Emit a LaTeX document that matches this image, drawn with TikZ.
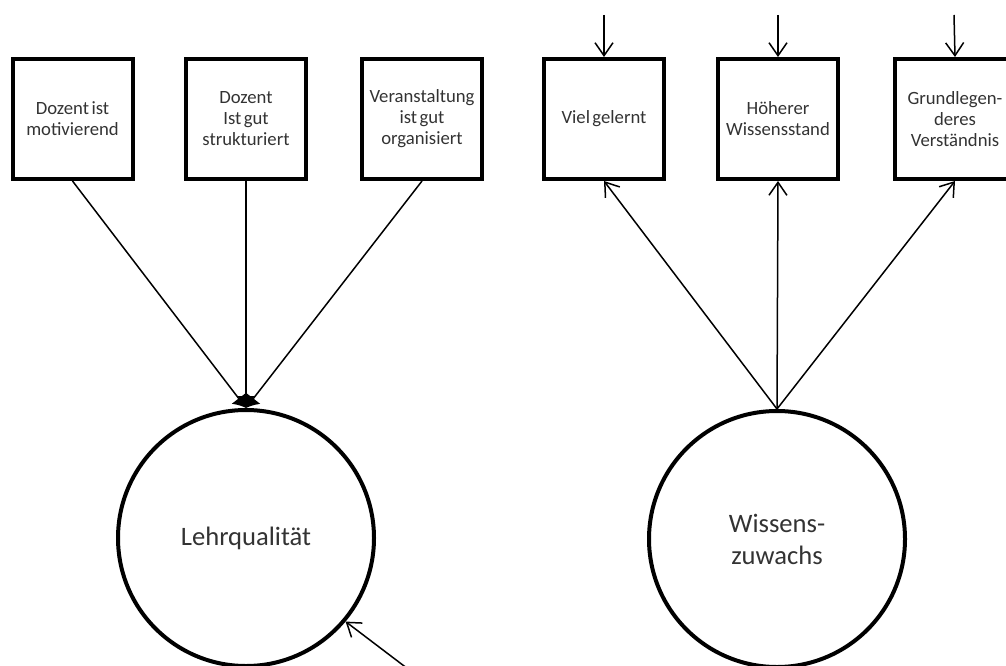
\documentclass[tikz,border=0pt]{standalone}
\usepackage{fontspec}
\setmainfont{Carlito}
\usetikzlibrary{arrows.meta}
\begin{document}
\begin{tikzpicture}[x=1pt,y=-1pt,
  indicator/.style={draw, line width=4pt, minimum width=120pt, minimum height=120pt,
    inner sep=0pt, align=center, text=black!80,
    font={\fontsize{18.7}{21}\selectfont\spaceskip=0.13em\relax}},
  latent/.style={draw, circle, line width=4pt, minimum size=256pt, inner sep=0pt,
    align=center, text=black!80, font=\fontsize{26.6}{32}\selectfont},
  effect/.style={line width=1.5pt, -{Straight Barb[length=13pt,width=18pt]}},
  cause/.style={line width=1.5pt, -{Latex[length=12pt,width=18pt]}}]
\useasboundingbox (0,0) rectangle (1006,666);
\clip (0,0) rectangle (1006,666);

% formative indicators of teaching quality
\node[indicator] (x1) at (72.5,119) {Dozent ist\\motivierend};
\node[indicator] (x2) at (246,119) {Dozent\\Ist gut\\strukturiert};
\node[indicator] (x3) at (422,119) {Veranstaltung\\ist gut\\organisiert};

% reflective indicators of knowledge gain
\node[indicator] (y1) at (604,119) {Viel gelernt};
\node[indicator] (y2) at (778,119) {Höherer\\Wissensstand};
\node[indicator] (y3) at (955,119) {Grundlegen-\\deres\\Verständnis};

% latent constructs
\node[latent] (L) at (246,538) {Lehrqualität};
\node[latent] (W) at (777,539) {Wissens-\\zuwachs};

% error terms
\coordinate (e1) at (604,15);
\coordinate (e2) at (778,15);
\coordinate (e3) at (954,15);
\coordinate (d) at (412,672);

\draw[cause] (x1.south) -- (L.north);
\draw[cause] (x2.south) -- (L.north);
\draw[cause] (x3.south) -- (L.north);

\draw[effect] (W.north) -- (y1.south);
\draw[effect] (W.north) -- (y2.south);
\draw[effect] (W.north) -- (y3.south);

\draw[effect] (e1) -- (y1.north);
\draw[effect] (e2) -- (y2.north);
\draw[effect] (e3) -- (y3.north);

\draw[effect] (d) -- (L.-40);
\end{tikzpicture}
\end{document}
